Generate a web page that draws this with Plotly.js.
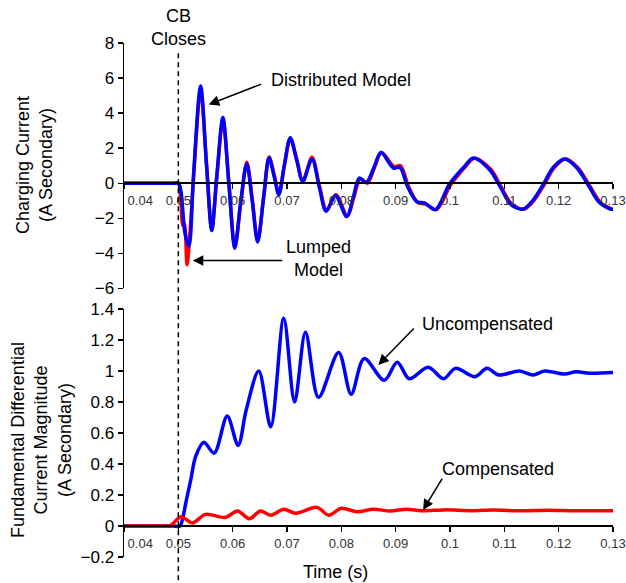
<!DOCTYPE html>
<html>
<head>
<meta charset="utf-8">
<script src="https://cdn.plot.ly/plotly-3.0.1.min.js"></script>
<style>html,body{margin:0;padding:0;background:#fff;}#chart{width:626px;height:583px;}</style>
</head>
<body>
<div id="chart"></div>
<script>
// ---- Top panel: charging current (A secondary) ----
const distTime = [0.04,0.045,0.049,0.05,0.0505,0.0512,0.05195,0.0528,0.0541,0.0552,0.05615,0.0571,0.0582,0.0593,0.0604,0.0615,0.0626,0.0636,0.0646,0.0657,0.0667,0.0677,0.0685,0.0695,0.0706,0.0718,0.0729,0.0746,0.0760,0.0772,0.0789,0.0810,0.0822,0.0833,0.0846,0.0860,0.0873,0.0896,0.0908,0.0922,0.0939,0.0954,0.0973,0.0998,0.1010,0.1025,0.1043,0.1073,0.1092,0.1112,0.1134,0.1152,0.1171,0.1190,0.1211,0.1233,0.1254,0.1275,0.1297,0.13];
const distributed = [0,0,0,0,-0.5,-2.8,-3.6,0.5,5.55,1.0,-2.7,0.5,3.75,0,-3.7,-1.0,1.1,-1.0,-3.35,-0.8,1.45,0.3,-0.65,1.0,2.6,1.3,0.1,1.38,-0.3,-1.6,-0.7,-1.9,-0.8,0.3,0.05,0.9,1.75,0.87,0.9,-0.2,-1.05,-1.13,-1.5,-0.1,0.39,0.9,1.44,0.77,-0.18,-1.2,-1.48,-1.0,-0.1,0.9,1.38,0.9,-0.08,-1.1,-1.48,-1.48];

const lumpTime = [0.04,0.045,0.049,0.05,0.0505,0.0508,0.0511,0.0516,0.0521,0.0528,0.0541,0.0552,0.05615,0.0571,0.0582,0.0593,0.0604,0.0615,0.0626,0.0636,0.0646,0.0657,0.0667,0.0677,0.0685,0.0695,0.0706,0.0718,0.0729,0.0746,0.0760,0.0773,0.0790,0.0811,0.0823,0.0835,0.0848,0.0861,0.0874,0.0897,0.0909,0.0924,0.0941,0.0956,0.0975,0.1000,0.1012,0.1027,0.1045,0.1075,0.1094,0.1114,0.1136,0.1154,0.1173,0.1192,0.1213,0.1235,0.1256,0.1277,0.1299,0.13];
const lumped = [0,0,0,0,-1.2,-2.4,-2.3,-4.65,-3.0,0.3,5.3,1.0,-2.6,0.4,3.6,0,-3.6,-1.1,1.2,-0.9,-3.3,-0.8,1.5,0.4,-0.6,1.0,2.55,1.35,0.15,1.48,-0.2,-1.55,-0.65,-1.85,-0.8,0.25,0.0,0.9,1.75,0.95,1.0,-0.2,-1.1,-1.2,-1.5,-0.15,0.35,0.9,1.42,0.8,-0.2,-1.2,-1.48,-1.0,-0.1,0.9,1.38,0.9,-0.08,-1.1,-1.48,-1.48];

// ---- Bottom panel: fundamental differential current magnitude ----
const uncompTime = [0.04,0.045,0.049,0.0503,0.0508,0.0515,0.0523,0.0532,0.0547,0.0566,0.0590,0.0610,0.0625,0.0648,0.0670,0.0694,0.0714,0.0734,0.0758,0.0795,0.0818,0.0842,0.0879,0.0903,0.0925,0.0960,0.0988,0.1010,0.1046,0.1068,0.1090,0.1128,0.1153,0.1174,0.1211,0.1232,0.1257,0.13];
const uncompensated = [0,0,0,0,0.05,0.17,0.30,0.45,0.54,0.47,0.71,0.52,0.75,1.0,0.64,1.34,0.80,1.25,0.83,1.12,0.85,1.08,0.94,1.056,0.95,1.024,0.95,1.017,0.963,1.017,0.974,1.0,0.974,1.0,0.98,0.995,0.985,0.99];

const compTime = [0.04,0.044,0.0475,0.0483,0.0490,0.0505,0.0526,0.0550,0.0587,0.0609,0.0631,0.0651,0.0670,0.0694,0.0716,0.0755,0.0777,0.0800,0.0829,0.0859,0.0890,0.0920,0.0948,0.0990,0.1040,0.1080,0.1130,0.1180,0.1230,0.13];
const compensated = [0,0,0,0,0.015,0.06,0.02,0.075,0.056,0.097,0.047,0.097,0.069,0.108,0.082,0.12,0.07,0.114,0.092,0.108,0.097,0.108,0.099,0.104,0.099,0.103,0.098,0.101,0.098,0.099];

// ---- Tick labels ----
const xTickVals = [0.04,0.05,0.06,0.07,0.08,0.09,0.10,0.11,0.12,0.13];
const xTickText = ['\u00a0\u00a0\u00a0\u00a0\u00a0\u00a0\u00a0\u00a0\u00a00.04','0.05','0.06','0.07','0.08','0.09','0.1','0.11','0.12','0.13'];

const FONT = 'Liberation Sans, Arial, sans-serif';
const RED = '#ff0000', BLUE = '#0000ff';
const LW = 3.5;

const traces = [
  {x: lumpTime, y: lumped, xaxis:'x', yaxis:'y', mode:'lines', line:{color:RED, width:LW, shape:'spline', smoothing:0.9}, name:'Lumped Model'},
  {x: distTime, y: distributed, xaxis:'x', yaxis:'y', mode:'lines', line:{color:BLUE, width:LW, shape:'spline', smoothing:0.9}, name:'Distributed Model'},
  {x: uncompTime, y: uncompensated, xaxis:'x2', yaxis:'y2', mode:'lines', line:{color:BLUE, width:LW, shape:'spline', smoothing:0.9}, name:'Uncompensated'},
  {x: compTime, y: compensated, xaxis:'x2', yaxis:'y2', mode:'lines', line:{color:RED, width:LW, shape:'spline', smoothing:0.9}, name:'Compensated'}
];

const topDom = [0.5224, 1];
const botDom = [0, 0.4825];
const topRange = [-6, 8];
const botRange = [-0.2, 1.4];
const zeroPos = (dom, r) => dom[0] + (0 - r[0]) / (r[1] - r[0]) * (dom[1] - dom[0]);

const xCommon = {
  range:[0.04,0.13], tickmode:'array', tickvals:xTickVals, ticktext:xTickText,
  showline:true, linecolor:'#000', linewidth:2, ticks:'outside', ticklen:5, tickwidth:1.5, tickcolor:'#000',
  showgrid:false, zeroline:false, tickfont:{family:FONT, size:13, color:'#333'}, anchor:'free'
};
const yCommon = {
  showline:true, linecolor:'#000', linewidth:1.5, ticks:'outside', ticklen:5, tickwidth:1.5, tickcolor:'#000',
  showgrid:false, zeroline:false, tickfont:{family:FONT, size:17, color:'#000'}
};

const layout = {
  width:626, height:583,
  margin:{l:124, r:13, t:43, b:26},
  paper_bgcolor:'#fff', plot_bgcolor:'rgba(0,0,0,0)',
  showlegend:false,
  font:{family:FONT, color:'#000'},
  xaxis: Object.assign({}, xCommon, {domain:[0,1], position: zeroPos(topDom, topRange)}),
  xaxis2: Object.assign({}, xCommon, {domain:[0,1], position: zeroPos(botDom, botRange)}),
  yaxis: Object.assign({}, yCommon, {domain:topDom, range:topRange, dtick:2, anchor:'x'}),
  yaxis2: Object.assign({}, yCommon, {domain:botDom, range:botRange, dtick:0.2, anchor:'x2'}),
  shapes:[
    {type:'line', xref:'x', yref:'paper', x0:0.05, x1:0.05, y0:-0.045, y1:0.982, line:{color:'#000', width:1.5, dash:'5px,4px'}}
  ],
  annotations:[
    {xref:'x', yref:'paper', x:0.05, y:1.031, text:'CB<br>Closes', showarrow:false, font:{size:18}, xanchor:'center', yanchor:'middle'},
    {xref:'paper', yref:'paper', x:-0.184, y:0.7626, text:'Charging Current<br>(A Secondary)', textangle:-90, showarrow:false, font:{size:18}, xanchor:'center', yanchor:'middle'},
    {xref:'paper', yref:'paper', x:-0.170, y:0.2276, text:'Fundamental Differential<br>Current Magnitude<br>(A Secondary)', textangle:-90, showarrow:false, font:{size:18}, xanchor:'center', yanchor:'middle'},
    {xref:'paper', yref:'paper', x:0.4335, y:-0.029, text:'Time (s)', showarrow:false, font:{size:18}, xanchor:'center', yanchor:'middle'},
    {xref:'x', yref:'y', x:0.0666, y:5.91, text:'Distributed Model', showarrow:false, font:{size:18}, xanchor:'left', yanchor:'middle'},
    {xref:'x', yref:'y', x:0.07578, y:-4.31, text:'Lumped<br>Model', showarrow:false, font:{size:18}, xanchor:'center', yanchor:'middle'},
    {xref:'x2', yref:'y2', x:0.0945, y:1.303, text:'Uncompensated', showarrow:false, font:{size:18}, xanchor:'left', yanchor:'middle'},
    {xref:'x2', yref:'y2', x:0.09817, y:0.368, text:'Compensated', showarrow:false, font:{size:18}, xanchor:'left', yanchor:'middle'},
    {xref:'x', yref:'y', x:0.0556, y:4.49, text:'', showarrow:true, ax:54, ay:-21, arrowhead:2, arrowsize:1.4, arrowwidth:1.5, arrowcolor:'#000'},
    {xref:'x', yref:'y', x:0.05266, y:-4.4, text:'', showarrow:true, ax:91, ay:0, arrowhead:2, arrowsize:1.4, arrowwidth:1.5, arrowcolor:'#000'},
    {xref:'x2', yref:'y2', x:0.0868, y:1.039, text:'', showarrow:true, ax:37, ay:-38, arrowhead:2, arrowsize:1.4, arrowwidth:1.5, arrowcolor:'#000'},
    {xref:'x2', yref:'y2', x:0.09505, y:0.103, text:'', showarrow:true, ax:20, ay:-33, arrowhead:2, arrowsize:1.4, arrowwidth:1.5, arrowcolor:'#000'}
  ]
};

Plotly.newPlot('chart', traces, layout, {displayModeBar:false, staticPlot:true});
</script>
</body>
</html>
